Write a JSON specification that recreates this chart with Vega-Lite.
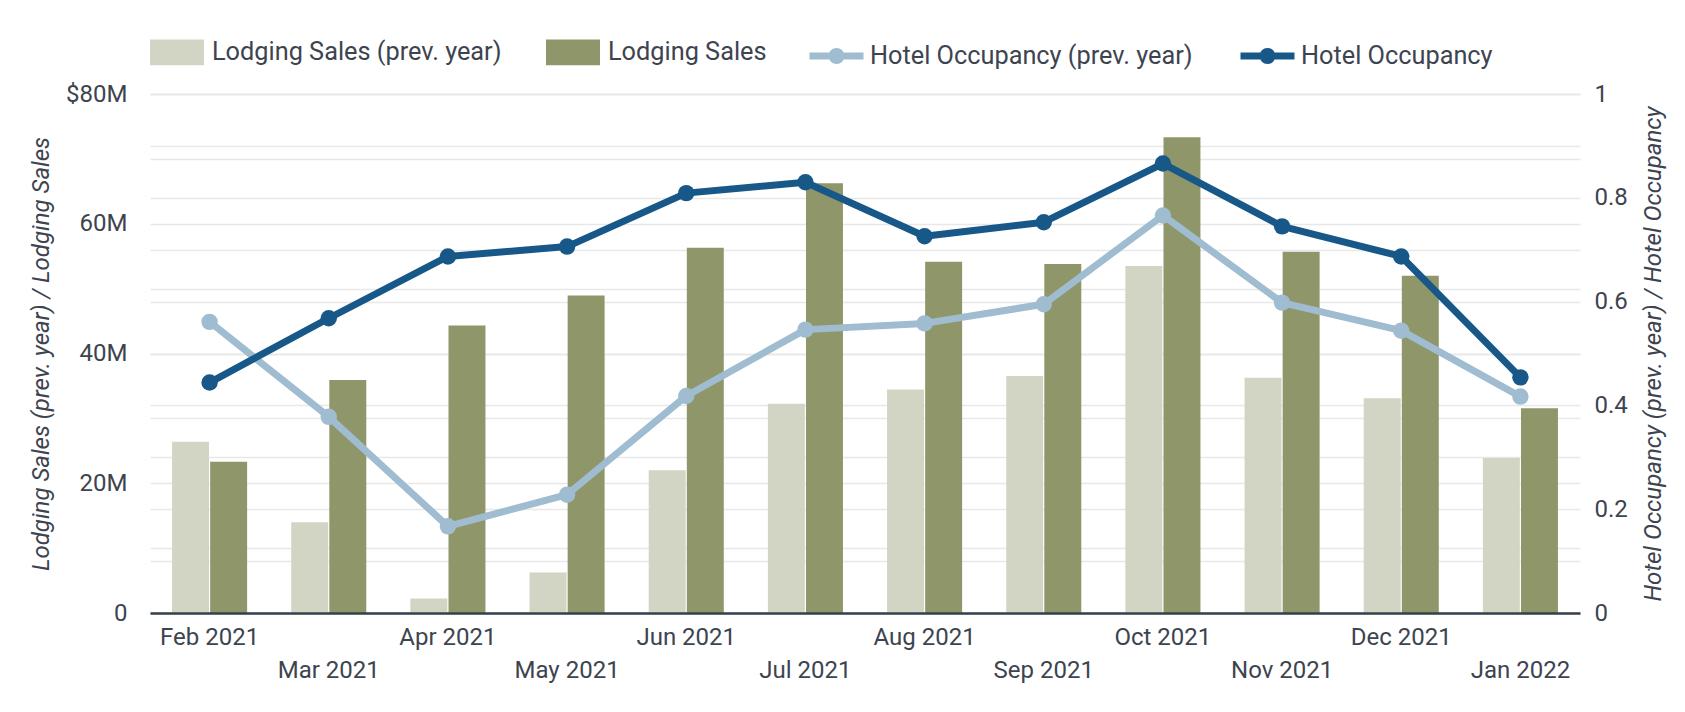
{
  "$schema": "https://vega.github.io/schema/vega-lite/v6.json",
  "width": 1430,
  "height": 519,
  "autosize": {"type": "none"},
  "padding": {"left": 150, "top": 94, "right": 105, "bottom": 99},
  "background": "white",
  "datasets": {
    "sales": [
      {"month": "Feb 2021", "series": "Lodging Sales (prev. year)", "value": 26400000},
      {"month": "Feb 2021", "series": "Lodging Sales", "value": 23300000},
      {"month": "Mar 2021", "series": "Lodging Sales (prev. year)", "value": 14000000},
      {"month": "Mar 2021", "series": "Lodging Sales", "value": 35900000},
      {"month": "Apr 2021", "series": "Lodging Sales (prev. year)", "value": 2250000},
      {"month": "Apr 2021", "series": "Lodging Sales", "value": 44300000},
      {"month": "May 2021", "series": "Lodging Sales (prev. year)", "value": 6250000},
      {"month": "May 2021", "series": "Lodging Sales", "value": 48950000},
      {"month": "Jun 2021", "series": "Lodging Sales (prev. year)", "value": 22000000},
      {"month": "Jun 2021", "series": "Lodging Sales", "value": 56300000},
      {"month": "Jul 2021", "series": "Lodging Sales (prev. year)", "value": 32250000},
      {"month": "Jul 2021", "series": "Lodging Sales", "value": 66250000},
      {"month": "Aug 2021", "series": "Lodging Sales (prev. year)", "value": 34450000},
      {"month": "Aug 2021", "series": "Lodging Sales", "value": 54150000},
      {"month": "Sep 2021", "series": "Lodging Sales (prev. year)", "value": 36550000},
      {"month": "Sep 2021", "series": "Lodging Sales", "value": 53800000},
      {"month": "Oct 2021", "series": "Lodging Sales (prev. year)", "value": 53500000},
      {"month": "Oct 2021", "series": "Lodging Sales", "value": 73350000},
      {"month": "Nov 2021", "series": "Lodging Sales (prev. year)", "value": 36250000},
      {"month": "Nov 2021", "series": "Lodging Sales", "value": 55700000},
      {"month": "Dec 2021", "series": "Lodging Sales (prev. year)", "value": 33100000},
      {"month": "Dec 2021", "series": "Lodging Sales", "value": 52000000},
      {"month": "Jan 2022", "series": "Lodging Sales (prev. year)", "value": 23900000},
      {"month": "Jan 2022", "series": "Lodging Sales", "value": 31550000}
    ],
    "occ": [
      {"month": "Feb 2021", "series": "Hotel Occupancy (prev. year)", "value": 0.561},
      {"month": "Mar 2021", "series": "Hotel Occupancy (prev. year)", "value": 0.378},
      {"month": "Apr 2021", "series": "Hotel Occupancy (prev. year)", "value": 0.167},
      {"month": "May 2021", "series": "Hotel Occupancy (prev. year)", "value": 0.228},
      {"month": "Jun 2021", "series": "Hotel Occupancy (prev. year)", "value": 0.418},
      {"month": "Jul 2021", "series": "Hotel Occupancy (prev. year)", "value": 0.546},
      {"month": "Aug 2021", "series": "Hotel Occupancy (prev. year)", "value": 0.558},
      {"month": "Sep 2021", "series": "Hotel Occupancy (prev. year)", "value": 0.595},
      {"month": "Oct 2021", "series": "Hotel Occupancy (prev. year)", "value": 0.766},
      {"month": "Nov 2021", "series": "Hotel Occupancy (prev. year)", "value": 0.598},
      {"month": "Dec 2021", "series": "Hotel Occupancy (prev. year)", "value": 0.544},
      {"month": "Jan 2022", "series": "Hotel Occupancy (prev. year)", "value": 0.417},
      {"month": "Feb 2021", "series": "Hotel Occupancy", "value": 0.444},
      {"month": "Mar 2021", "series": "Hotel Occupancy", "value": 0.568},
      {"month": "Apr 2021", "series": "Hotel Occupancy", "value": 0.687},
      {"month": "May 2021", "series": "Hotel Occupancy", "value": 0.706},
      {"month": "Jun 2021", "series": "Hotel Occupancy", "value": 0.809},
      {"month": "Jul 2021", "series": "Hotel Occupancy", "value": 0.830},
      {"month": "Aug 2021", "series": "Hotel Occupancy", "value": 0.726},
      {"month": "Sep 2021", "series": "Hotel Occupancy", "value": 0.753},
      {"month": "Oct 2021", "series": "Hotel Occupancy", "value": 0.866},
      {"month": "Nov 2021", "series": "Hotel Occupancy", "value": 0.745},
      {"month": "Dec 2021", "series": "Hotel Occupancy", "value": 0.687},
      {"month": "Jan 2022", "series": "Hotel Occupancy", "value": 0.454}
    ]
  },
  "layer": [
    {
      "data": {"name": "sales"},
      "mark": {"type": "bar"},
      "encoding": {
        "x": {
          "field": "month",
          "type": "ordinal",
          "sort": null,
          "scale": {
            "domain": ["Feb 2021", "Mar 2021", "Apr 2021", "May 2021", "Jun 2021", "Jul 2021", "Aug 2021", "Sep 2021", "Oct 2021", "Nov 2021", "Dec 2021", "Jan 2022"],
            "paddingInner": 0.37,
            "paddingOuter": 0.185
          },
          "axis": {
            "title": null,
            "labelAngle": 0,
            "ticks": false,
            "grid": false,
            "domain": true,
            "domainColor": "#36404a",
            "domainWidth": 2.5,
            "labelPadding": 12,
            "labelBaseline": "top",
            "labelLineHeight": 33,
            "labelExpr": "indexof(['Mar 2021','May 2021','Jul 2021','Sep 2021','Nov 2021','Jan 2022'], datum.value) >= 0 ? [' ', datum.value] : datum.value",
            "zindex": 1
          }
        },
        "xOffset": {
          "field": "series",
          "sort": ["Lodging Sales (prev. year)", "Lodging Sales"],
          "scale": {"paddingInner": 0.03}
        },
        "y": {
          "field": "value",
          "type": "quantitative",
          "scale": {"domain": [0, 80000000], "nice": false},
          "axis": {
            "values": [0, 10000000, 20000000, 30000000, 40000000, 50000000, 60000000, 70000000, 80000000],
            "labelExpr": "datum.value == 80000000 ? '$80M' : (datum.value == 0 ? '0' : (datum.value % 20000000 == 0 ? (datum.value / 1000000) + 'M' : ''))",
            "title": "Lodging Sales (prev. year) / Lodging Sales",
            "ticks": false,
            "domain": false,
            "grid": true,
            "labelPadding": 23,
            "titlePadding": 12
          }
        },
        "color": {
          "field": "series",
          "type": "nominal",
          "scale": {
            "domain": ["Lodging Sales (prev. year)", "Lodging Sales"],
            "range": ["#d3d5c4", "#8f966a"]
          },
          "legend": {
            "title": null,
            "orient": "top",
            "direction": "horizontal",
            "symbolType": "M-1,-0.48L1,-0.48L1,0.48L-1,0.48Z",
            "symbolSize": 2916,
            "symbolStrokeWidth": 0,
            "labelOffset": 8,
            "columnPadding": 44,
            "offset": 19
          }
        }
      }
    },
    {
      "data": {"name": "occ"},
      "mark": {
        "type": "line",
        "strokeWidth": 7,
        "strokeJoin": "round",
        "point": {"filled": true, "size": 270, "opacity": 1}
      },
      "encoding": {
        "x": {"field": "month", "type": "ordinal", "sort": null},
        "y": {
          "field": "value",
          "type": "quantitative",
          "scale": {"domain": [0, 1], "nice": false},
          "axis": {
            "orient": "right",
            "values": [0, 0.1, 0.2, 0.3, 0.4, 0.5, 0.6, 0.7, 0.8, 0.9, 1],
            "labelExpr": "datum.value == 0 ? '0' : (datum.value == 1 ? '1' : (round(datum.value * 10) % 2 == 0 ? format(datum.value, '.1f') : ''))",
            "title": "Hotel Occupancy (prev. year) / Hotel Occupancy",
            "titleAngle": 270,
            "ticks": false,
            "domain": false,
            "grid": true,
            "labelPadding": 14,
            "titlePadding": 38
          }
        },
        "color": {
          "field": "series",
          "type": "nominal",
          "sort": null,
          "scale": {
            "domain": ["Hotel Occupancy (prev. year)", "Hotel Occupancy"],
            "range": ["#a0bcd0", "#185888"]
          },
          "legend": {
            "title": null,
            "orient": "top",
            "direction": "horizontal",
            "symbolType": "M-1,0L1,0M-0.167,0A0.167,0.167 0 1,1 0.167,0A0.167,0.167 0 1,1 -0.167,0",
            "symbolSize": 2916,
            "symbolStrokeWidth": 7,
            "symbolOffset": 31,
            "labelOffset": 3,
            "columnPadding": 13,
            "offset": 19
          }
        }
      }
    }
  ],
  "resolve": {"scale": {"y": "independent", "color": "independent"}},
  "config": {
    "font": "Roboto",
    "view": {"stroke": null},
    "axis": {
      "labelFont": "Roboto",
      "titleFont": "Roboto",
      "labelColor": "#3d4450",
      "titleColor": "#3d4450",
      "labelFontSize": 24,
      "titleFontSize": 24,
      "titleFontWeight": "normal",
      "titleFontStyle": "italic",
      "gridColor": "#e8e8e8",
      "gridWidth": 1.5
    },
    "legend": {
      "labelFont": "Roboto",
      "labelFontSize": 25.3,
      "labelColor": "#3d4450",
      "labelLimit": 600,
      "offset": 19
    }
  }
}
